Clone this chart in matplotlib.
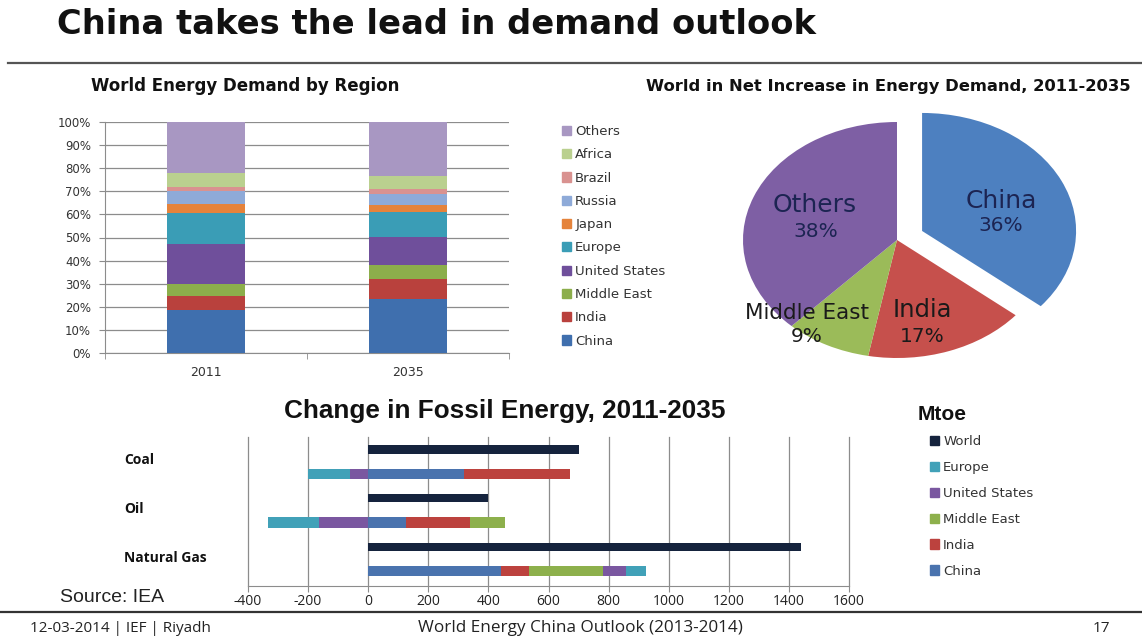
"""China demand outlook slide: stacked share bars, net-increase pie, fossil change bars."""

import matplotlib

matplotlib.use("Agg")  # noqa: E402

import matplotlib.pyplot as plt
import numpy as np
from matplotlib.lines import Line2D
from matplotlib.patches import Patch

plt.rcParams["axes.unicode_minus"] = False

W, H = 1142, 641

# World energy demand by region, share of total (%)
years = ["2011", "2035"]
regions = ["China", "India", "Middle East", "United States", "Europe",
           "Japan", "Russia", "Brazil", "Africa", "Others"]
share_2011 = [18.7, 5.8, 5.3, 17.2, 13.4, 3.9, 5.9, 1.8, 6.0, 22.0]
share_2035 = [23.3, 8.6, 6.2, 12.3, 10.5, 3.1, 5.0, 2.0, 5.8, 23.2]

# Net increase in energy demand 2011-2035 (%)
pie_labels = ["China", "India", "Middle East", "Others"]
pie_share = [36, 17, 9, 38]

# Change in fossil energy 2011-2035 (Mtoe)
fuels = ["Coal", "Oil", "Natural Gas"]
world_change = [700, 400, 1440]
fossil_regions = ["China", "India", "Middle East", "United States", "Europe"]
china_change = [320, 125, 442]
india_change = [350, 215, 93]
mideast_change = [0, 115, 247]
us_change = [-60, -165, 75]
europe_change = [-140, -170, 68]

BAR_COLORS = {
    "China": "#3f6fae", "India": "#b9413d", "Middle East": "#8cae4b",
    "United States": "#6f4f9b", "Europe": "#3a9db6", "Japan": "#e5833b",
    "Russia": "#8eaad8", "Brazil": "#d99290", "Africa": "#bad08f",
    "Others": "#a897c2",
}
PIE_COLORS = {"China": "#4d80c0", "India": "#c6504c",
              "Middle East": "#9bbb59", "Others": "#7e5fa4"}
FOSSIL_COLORS = {"World": "#15233d", "China": "#4a73ae", "India": "#bc423e",
                 "Middle East": "#8db04c", "United States": "#7a57a0",
                 "Europe": "#41a1b8"}
GRID = "#8c8c8c"


def fy(y):
    return 1 - y / H


def axes_px(fig, x0, y0, x1, y1):
    return fig.add_axes([x0 / W, 1 - y1 / H, (x1 - x0) / W, (y1 - y0) / H])


fig = plt.figure(figsize=(W / 100, H / 100), dpi=100)
fig.patch.set_facecolor("white")

# ---- slide frame
fig.text(57 / W, fy(25), "China takes the lead in demand outlook",
         family="DejaVu Sans", weight="bold", size=24.3, ha="left",
         va="center", color="#111111")
fig.add_artist(Line2D([8 / W, 1], [fy(63)] * 2, color="#555555", lw=1.6))
fig.add_artist(Line2D([0, 1], [fy(612)] * 2, color="#333333", lw=1.6))
foot = dict(family="Open Sans", va="center", color="#222222")
fig.text(30 / W, fy(628), "12-03-2014 | IEF | Riyadh", ha="left", size=11,
         **foot)
fig.text(418 / W, fy(628), "World Energy China Outlook (2013-2014)",
         ha="left", size=12.3, **foot)
fig.text(1110 / W, fy(628), "17", ha="right", size=11, **foot)

# ---- stacked share bars
ax1 = axes_px(fig, 105, 122, 509, 353)
x = np.arange(len(years))
bottom = np.zeros(len(years))
for name, a, b in zip(regions, share_2011, share_2035):
    vals = np.array([a, b])
    ax1.bar(x, vals, 0.39, bottom=bottom, color=BAR_COLORS[name],
            linewidth=0, zorder=3)
    bottom += vals
ax1.set_xlim(-0.5, 1.5)
ax1.set_ylim(0, 100)
ax1.set_yticks(np.arange(0, 101, 10))
ax1.set_yticklabels([f"{v}%" for v in range(0, 101, 10)])
ax1.set_xticks(x, years)
ax1.set_xticks([-0.5, 0.5, 1.5], minor=True)
ax1.yaxis.grid(True, color=GRID, lw=0.9)
ax1.set_axisbelow(True)
for s in ("top", "right"):
    ax1.spines[s].set_visible(False)
for s in ("left", "bottom"):
    ax1.spines[s].set_color(GRID)
ax1.tick_params(axis="y", length=4, color=GRID, pad=6, labelsize=8.5,
                labelcolor="#333333")
ax1.tick_params(axis="x", which="major", length=0, pad=9, labelsize=9,
                labelcolor="#333333")
ax1.tick_params(axis="x", which="minor", length=4, color=GRID)
fig.text(245 / W, fy(86), "World Energy Demand by Region",
         family="DejaVu Sans", weight="bold", size=12, ha="center",
         va="center", color="#111111")

handles = [Patch(color=BAR_COLORS[r], label=r) for r in regions[::-1]]
fig.legend(handles=handles, loc="upper left",
           bbox_to_anchor=(562 / W, fy(125)), frameon=False,
           borderpad=0, borderaxespad=0, handlelength=0.7, handleheight=0.7,
           handletextpad=0.3, labelspacing=0.78,
           prop=dict(family="DejaVu Sans", size=9.5), labelcolor="#333333")

# ---- net increase pie (slide is stretched, so the pie is an ellipse)
ax2 = axes_px(fig, 681.4, 98.4, 1128.0, 381.6)
ax2.pie(pie_share, colors=[PIE_COLORS[p] for p in pie_labels],
        startangle=90, counterclock=False, explode=[0.18, 0, 0, 0],
        wedgeprops=dict(linewidth=0))
ax2.set_aspect("auto")
ax2.set_xlim(-1.4, 1.5)
ax2.set_ylim(-1.2, 1.2)
ax2.axis("off")
name_pos = [(0.675, 0.331), (0.162, -0.593), (-0.584, -0.619), (-0.532, 0.297)]
pct_pos = [(0.675, 0.127), (0.162, -0.814), (-0.584, -0.814), (-0.526, 0.076)]
name_size = [18, 17.5, 15.5, 18]
txt_color = ["#1c2452", "#1a1a1a", "#1a1a1a", "#1c2452"]
for lab, val, npos, ppos, ns, c in zip(pie_labels, pie_share, name_pos,
                                      pct_pos, name_size, txt_color):
    ax2.text(*npos, lab, ha="center", va="center", size=ns, color=c,
             family="DejaVu Sans")
    ax2.text(*ppos, f"{val}%", ha="center", va="center", size=14.5, color=c,
             family="DejaVu Sans")
fig.text(888 / W, fy(86), "World in Net Increase in Energy Demand, 2011-2035",
         family="DejaVu Sans", weight="bold", size=11.8, ha="center",
         va="center", color="#111111")

# ---- change in fossil energy
ax3 = axes_px(fig, 248, 437, 849, 586)
rows = np.arange(len(fuels)) * 2
ax3.barh(rows, world_change, 0.36, color=FOSSIL_COLORS["World"],
         linewidth=0, zorder=3)
pos = np.zeros(len(fuels))
neg = np.zeros(len(fuels))
series = [china_change, india_change, mideast_change, us_change, europe_change]
for name, vals in zip(fossil_regions, series):
    v = np.array(vals, dtype=float)
    left = np.where(v >= 0, pos, neg)
    ax3.barh(rows + 1, v, 0.42, left=left, color=FOSSIL_COLORS[name],
             linewidth=0, zorder=3)
    pos += np.clip(v, 0, None)
    neg += np.clip(v, None, 0)
ax3.set_xlim(-400, 1600)
ax3.set_ylim(5.6, -0.5)
ax3.set_xticks(np.arange(-400, 1601, 200))
ax3.set_yticks([])
ax3.xaxis.grid(True, color=GRID, lw=0.9)
for gl in ax3.get_xgridlines():
    gl.set_clip_on(False)
ax3.set_axisbelow(True)
for s in ("top", "right", "left"):
    ax3.spines[s].set_visible(False)
ax3.spines["bottom"].set_color(GRID)
ax3.tick_params(axis="x", length=4, color=GRID, pad=2, labelcolor="#222222")
for lbl in ax3.get_xticklabels():
    lbl.set_family("Open Sans")
    lbl.set_size(10)
for r, fuel in zip(rows, fuels):
    ax3.text(-0.206, r + 0.45, fuel, transform=ax3.get_yaxis_transform(),
             ha="left", va="center", family="Open Sans", weight="bold",
             size=10, color="#111111")
fig.text(505 / W, fy(411), "Change in Fossil Energy, 2011-2035",
         family="Liberation Sans", weight="bold", size=18.8, ha="center",
         va="center", color="#111111")
fig.text(60 / W, fy(598), "Source: IEA", family="Liberation Sans", size=14,
         ha="left", va="center", color="#222222")
fig.text(918 / W, fy(414), "Mtoe", family="Liberation Sans", weight="bold",
         size=15, ha="left", va="center", color="#111111")

fossil_handles = [Patch(color=FOSSIL_COLORS[k], label=k)
                  for k in ["World", "Europe", "United States", "Middle East",
                            "India", "China"]]
fig.legend(handles=fossil_handles, loc="upper left",
           bbox_to_anchor=(930 / W, fy(435)), frameon=False,
           borderpad=0, borderaxespad=0, handlelength=0.7, handleheight=0.7,
           handletextpad=0.3, labelspacing=0.98,
           prop=dict(family="DejaVu Sans", size=9.5), labelcolor="#333333")

fig.savefig("out.png", dpi=100)
